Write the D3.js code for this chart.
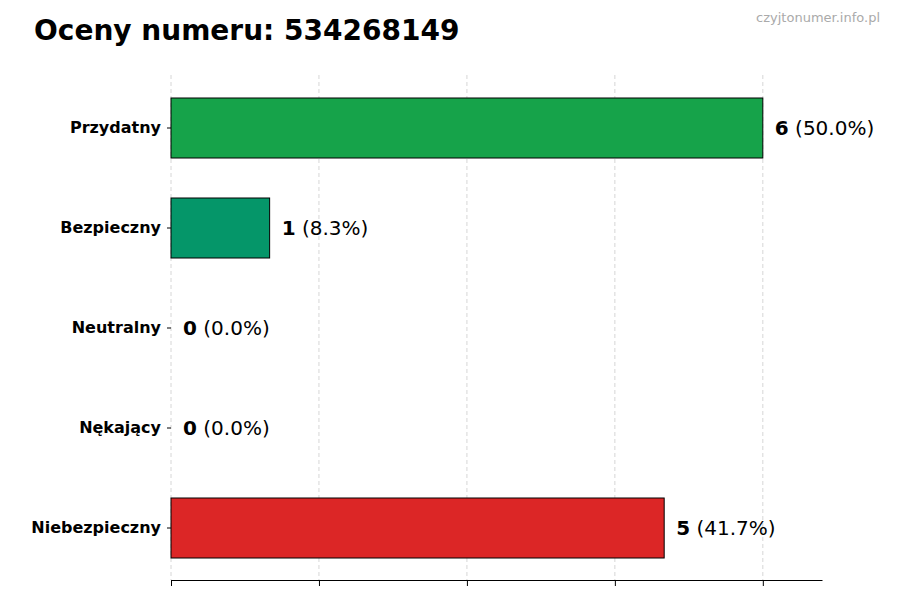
<!DOCTYPE html>
<html><head><meta charset="utf-8">
<script src="https://cdn.jsdelivr.net/npm/d3@7"></script>
<style>body{margin:0;background:#fff;font-family:"DejaVu Sans",sans-serif}</style>
</head><body><div id="vis"></div>
<script>
var categories = ["Przydatny", "Bezpieczny", "Neutralny", "Nękający", "Niebezpieczny"];
var counts = [6, 1, 0, 0, 5];
var percents = ["50.0%", "8.3%", "0.0%", "0.0%", "41.7%"];
var colors = ["#16a34a", "#059669", "#6b7280", "#ea580c", "#dc2626"];
var xTicks = [0, 1.5, 3, 4.5, 6];

var svg = d3.select('#vis').append('svg').attr('width', 900).attr('height', 600);

svg.append('text').attr('x', 34).attr('y', 40).attr('font-size', 28).attr('font-weight', 'bold')
    .text('Oceny numeru: 534268149');
svg.append('text').attr('x', 880).attr('y', 22).attr('text-anchor', 'end').attr('font-size', 13)
    .attr('fill', '#aaa').text('czyjtonumer.info.pl');

var x = d3.scaleLinear().domain([0, 6.6]).range([171, 822]);
var y = d3.scaleBand().domain(categories).range([78, 578]).paddingInner(0.4).paddingOuter(0.2);

// grid
svg.selectAll('.grid').data(xTicks).enter().append('line')
    .attr('x1', d => x(d)).attr('x2', d => x(d)).attr('y1', 75).attr('y2', 580)
    .attr('stroke', '#ccc').attr('stroke-dasharray', '4,3').attr('stroke-width', 0.8);

svg.append('g').attr('transform', 'translate(0,580)')
    .call(d3.axisBottom(x).tickValues(xTicks).tickFormat('').tickSize(6).tickSizeOuter(0))
    .call(g => g.select('.domain').attr('stroke', '#000'));

svg.append('g').attr('transform', 'translate(171,0)')
    .call(d3.axisLeft(y).tickSize(4).tickPadding(6))
    .call(g => g.select('.domain').remove())
    .call(g => g.selectAll('text').attr('font-size', 16).attr('font-weight', 'bold').attr('fill', '#000')
        .attr('font-family', '"DejaVu Sans",sans-serif'));

categories.forEach(function(c, i) {
    svg.append('rect').attr('x', x(0)).attr('y', y(c)).attr('width', x(counts[i]) - x(0))
        .attr('height', y.bandwidth()).attr('fill', colors[i]).attr('stroke', '#000').attr('stroke-width', 1);
    var t = svg.append('text').attr('x', x(counts[i]) + 12).attr('y', y(c) + y.bandwidth() / 2)
        .attr('dy', '0.35em').attr('font-size', 20);
    t.append('tspan').attr('font-weight', 'bold').text(counts[i]);
    t.append('tspan').text(' (' + percents[i] + ')');
});
</script></body></html>
